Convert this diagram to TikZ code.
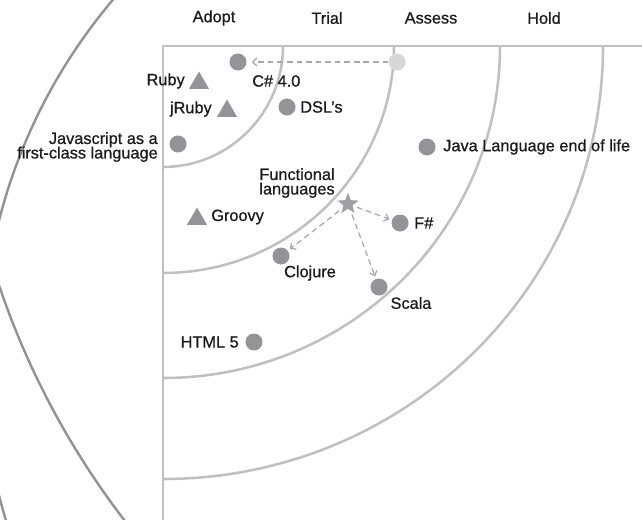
\documentclass[tikz,border=0pt]{standalone}
\usepackage{fontspec}
\setmainfont{Liberation Sans}[FakeBold=0.7]
\usepackage{tikz}
\usetikzlibrary{shapes.geometric,arrows.meta}
\usepackage{xcolor}

\definecolor{ringgray}{RGB}{192,192,195}
\definecolor{outergray}{RGB}{146,146,149}
\definecolor{blipgray}{RGB}{148,148,152}
\definecolor{oldgray}{RGB}{215,215,217}
\definecolor{stargray}{RGB}{160,160,164}
\definecolor{movegray}{RGB}{168,168,171}
\definecolor{inkc}{RGB}{28,25,26}

\newcommand\lblfont{\fontsize{11.6pt}{10.3pt}\selectfont\lineskiplimit=-6pt\relax}

\tikzset{
  ring/.style={draw=ringgray, line width=1.8pt},
  outer/.style={draw=outergray, line width=1.7pt},
  blip/.style={circle, fill=blipgray, minimum size=0.425cm, inner sep=0pt},
  oldblip/.style={blip, fill=oldgray},
  tri/.style={regular polygon, regular polygon sides=3, fill=blipgray, minimum size=0.575cm, inner sep=0pt},
  starblip/.style={star, star points=5, star point ratio=2.3, fill=stargray, minimum size=0.55cm, inner sep=0pt},
  lbl/.style={text=inkc, inner sep=0pt, font=\lblfont},
  move/.style={draw=movegray, line width=0.9pt, dash pattern=on 4pt off 2.8pt,
    -{Straight Barb[length=3pt,width=5.5pt]}, shorten <=3pt, shorten >=1.7pt}
}

\begin{document}
\begin{tikzpicture}[x=0.025cm, y=-0.025cm]
  \useasboundingbox (0,0) rectangle (642,519);
  \clip (0,0) rectangle (642,519);

  % big outer circles, only their left edges show
  \draw[outer] (537,358) circle[radius=13.875cm];
  \draw[outer] (769,26) circle[radius=20.3cm];

  % axes
  \draw[ring, line join=miter] (650,46) -- (163,46) -- (163,525);

  % rings
  \foreach \rx/\ry in {120/121, 231/227, 337/332, 440/433}
    \draw[ring] (163+\rx,46) arc[start angle=0, end angle=90, x radius=\rx, y radius=\ry];

  % headings
  \node[lbl] (adopt) at (214,18) {Adopt};
  \node[lbl] (trial) at (327,18) {Trial};
  \node[lbl] (assess) at (431,18) {Assess};
  \node[lbl] (hold) at (544,18) {Hold};

  % blips
  \node[blip] (csharp) at (238,62) {};
  \node[oldblip] (csharpold) at (397,62) {};
  \node[tri] (ruby) at (199,83) {};
  \node[tri] (jruby) at (227,111) {};
  \node[blip] (dsl) at (287,107) {};
  \node[blip] (js) at (178,144) {};
  \node[tri] (groovy) at (197,219) {};
  \node[starblip] (func) at (348,204) {};
  \node[blip] (fsharp) at (400,223) {};
  \node[blip] (clojure) at (281,256) {};
  \node[blip] (scala) at (379,287) {};
  \node[blip] (java) at (427,147) {};
  \node[blip] (html) at (254,342) {};

  % labels
  \node[lbl, left] (rubylbl) at (185,81) {Ruby};
  \node[lbl, right] (csharplbl) at (252,81) {C\# 4.0};
  \node[lbl, left] (jrubylbl) at (212,109) {jRuby};
  \node[lbl, right] (dsllbl) at (300,107) {DSL’s};
  \node[lbl, left, align=right] (jslbl) at (158,147) {Javascript as a\\first-class language};
  \node[lbl, align=center] (funclbl) at (297,183) {Functional\\languages};
  \node[lbl, right] (groovylbl) at (211,217) {Groovy};
  \node[lbl, right] (fsharplbl) at (414,223) {F\#};
  \node[lbl] (clojurelbl) at (310,273) {Clojure};
  \node[lbl] (scalalbl) at (411,303) {Scala};
  \node[lbl, right] (javalbl) at (443,147) {Java Language end of life};
  \node[lbl, left] (htmllbl) at (239,342) {HTML 5};

  % moves
  \draw[move, shorten >=3.5pt, shorten <=0pt] (csharpold) -- (csharp);
  \draw[move] (func) -- (fsharp);
  \draw[move] (func) -- (clojure);
  \draw[move] (func) -- (scala);
\end{tikzpicture}
\end{document}
